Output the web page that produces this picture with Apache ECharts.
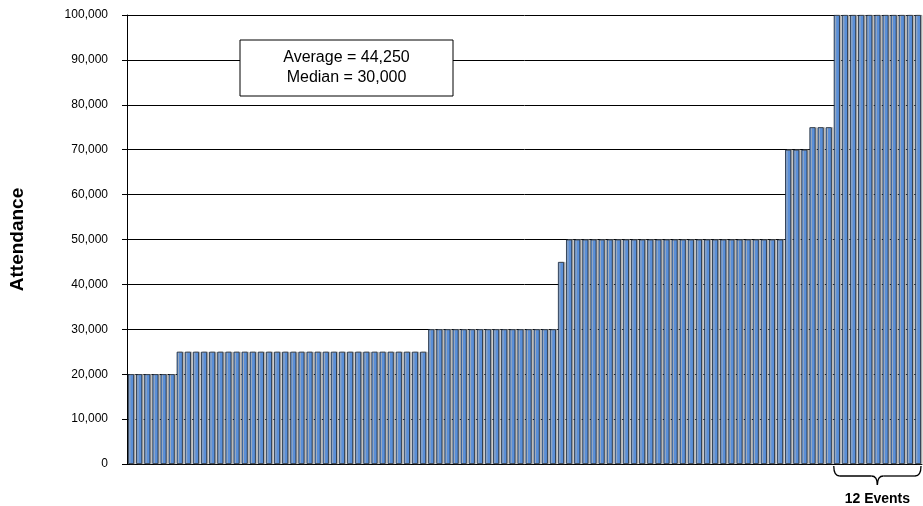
<!DOCTYPE html>
<html>
<head>
<meta charset="utf-8">
<script src="https://cdn.jsdelivr.net/npm/echarts@6/dist/echarts.min.js"></script>
<style>
  html, body { margin: 0; padding: 0; background: #fff; }
  #main { width: 923px; height: 506px; }
</style>
</head>
<body>
<div id="main"></div>
<script>
// attendance levels and how many events sit at each level (sorted ascending)
const levels = [20000, 25000, 30000, 45000, 50000, 70000, 75000, 100000];
const counts = [6, 31, 16, 1, 27, 3, 3, 11];
const yTicks = [0, 10000, 20000, 30000, 40000, 50000, 60000, 70000, 80000, 90000, 100000];
const statsLines = ['Average = 44,250', 'Median = 30,000'];
const bracketLabel = '12 Events';

const values = [];
levels.forEach((lvl, i) => {
    for (let k = 0; k < counts[i]; k++) values.push(lvl);
});
const categories = values.map((v, i) => 'E' + (i + 1));

const chart = echarts.init(document.getElementById('main'));
const fontFamily = '"Liberation Sans", Arial, sans-serif';

chart.setOption({
    animation: false,
    grid: { left: 127, right: 1, top: 15, bottom: 42 },
    xAxis: {
        type: 'category',
        data: categories,
        axisLine: { lineStyle: { color: '#000', width: 1 } },
        axisTick: { show: false },
        axisLabel: { show: false }
    },
    yAxis: {
        type: 'value',
        min: yTicks[0],
        max: yTicks[yTicks.length - 1],
        interval: 10000,
        name: 'Attendance',
        nameLocation: 'middle',
        nameGap: 100,
        nameTextStyle: { fontFamily, fontWeight: 'bold', fontSize: 19, color: '#000' },
        axisLine: { show: true, lineStyle: { color: '#000', width: 1 } },
        axisTick: { show: true, length: 5, lineStyle: { color: '#000' } },
        axisLabel: {
            fontFamily, fontSize: 12, color: '#000', margin: 19,
            formatter: v => v.toLocaleString('en-US')
        },
        splitLine: { show: true, lineStyle: { color: '#000', width: 1 } }
    },
    series: [{
        type: 'bar',
        data: values,
        barCategoryGap: '25%',
        itemStyle: {
            color: '#5A8FD8',
            borderColor: '#1b2633',
            borderWidth: 0.8,
            shadowColor: '#b4b4b4',
            shadowBlur: 0,
            shadowOffsetX: 1.5,
            shadowOffsetY: 0
        }
    }]
});

// bracket under the top group, placed from the axis scale
const firstTop = values.length - counts[counts.length - 1];
const xa = chart.convertToPixel({ xAxisIndex: 0 }, categories[firstTop]);
const xb = chart.convertToPixel({ xAxisIndex: 0 }, categories[values.length - 1]);
const half = (xb - xa) / (counts[counts.length - 1] - 1) / 2;
const x0 = xa - half + 1, x1 = xb + half - 1, xm = (x0 + x1) / 2;
const y0 = chart.convertToPixel({ yAxisIndex: 0 }, 0) + 2;
const yh = y0 + 10;
const r = 6;
const bracketStyle = { fill: null, stroke: '#000', lineWidth: 1.3 };

function curve(ax, ay, cx, cy, bx, by) {
    return { type: 'bezierCurve', shape: { x1: ax, y1: ay, cpx1: cx, cpy1: cy, x2: bx, y2: by }, style: bracketStyle };
}
function seg(ax, ay, bx, by) {
    return { type: 'line', shape: { x1: ax, y1: ay, x2: bx, y2: by }, style: bracketStyle };
}

chart.setOption({
    graphic: [{
        type: 'rect',
        shape: { x: 240, y: 40, width: 213, height: 56 },
        style: { fill: '#fff', stroke: '#000', lineWidth: 1 }
    }, {
        type: 'text',
        x: 346.5,
        y: 68,
        style: {
            text: statsLines.join('\n'),
            fontFamily, fontSize: 16, lineHeight: 20,
            fill: '#000', align: 'center', verticalAlign: 'middle'
        }
    },
    curve(x0, y0, x0, yh, x0 + r, yh),
    seg(x0 + r, yh, xm - r, yh),
    curve(xm - r, yh, xm, yh, xm, yh + 9),
    curve(xm, yh + 9, xm, yh, xm + r, yh),
    seg(xm + r, yh, x1 - r, yh),
    curve(x1 - r, yh, x1, yh, x1, y0),
    {
        type: 'text',
        x: xm,
        y: yh + 23,
        style: {
            text: bracketLabel, fontFamily, fontSize: 14, fontWeight: 'bold',
            fill: '#000', align: 'center', verticalAlign: 'middle'
        }
    }]
});

window.addEventListener('resize', () => chart.resize());
</script>
</body>
</html>
